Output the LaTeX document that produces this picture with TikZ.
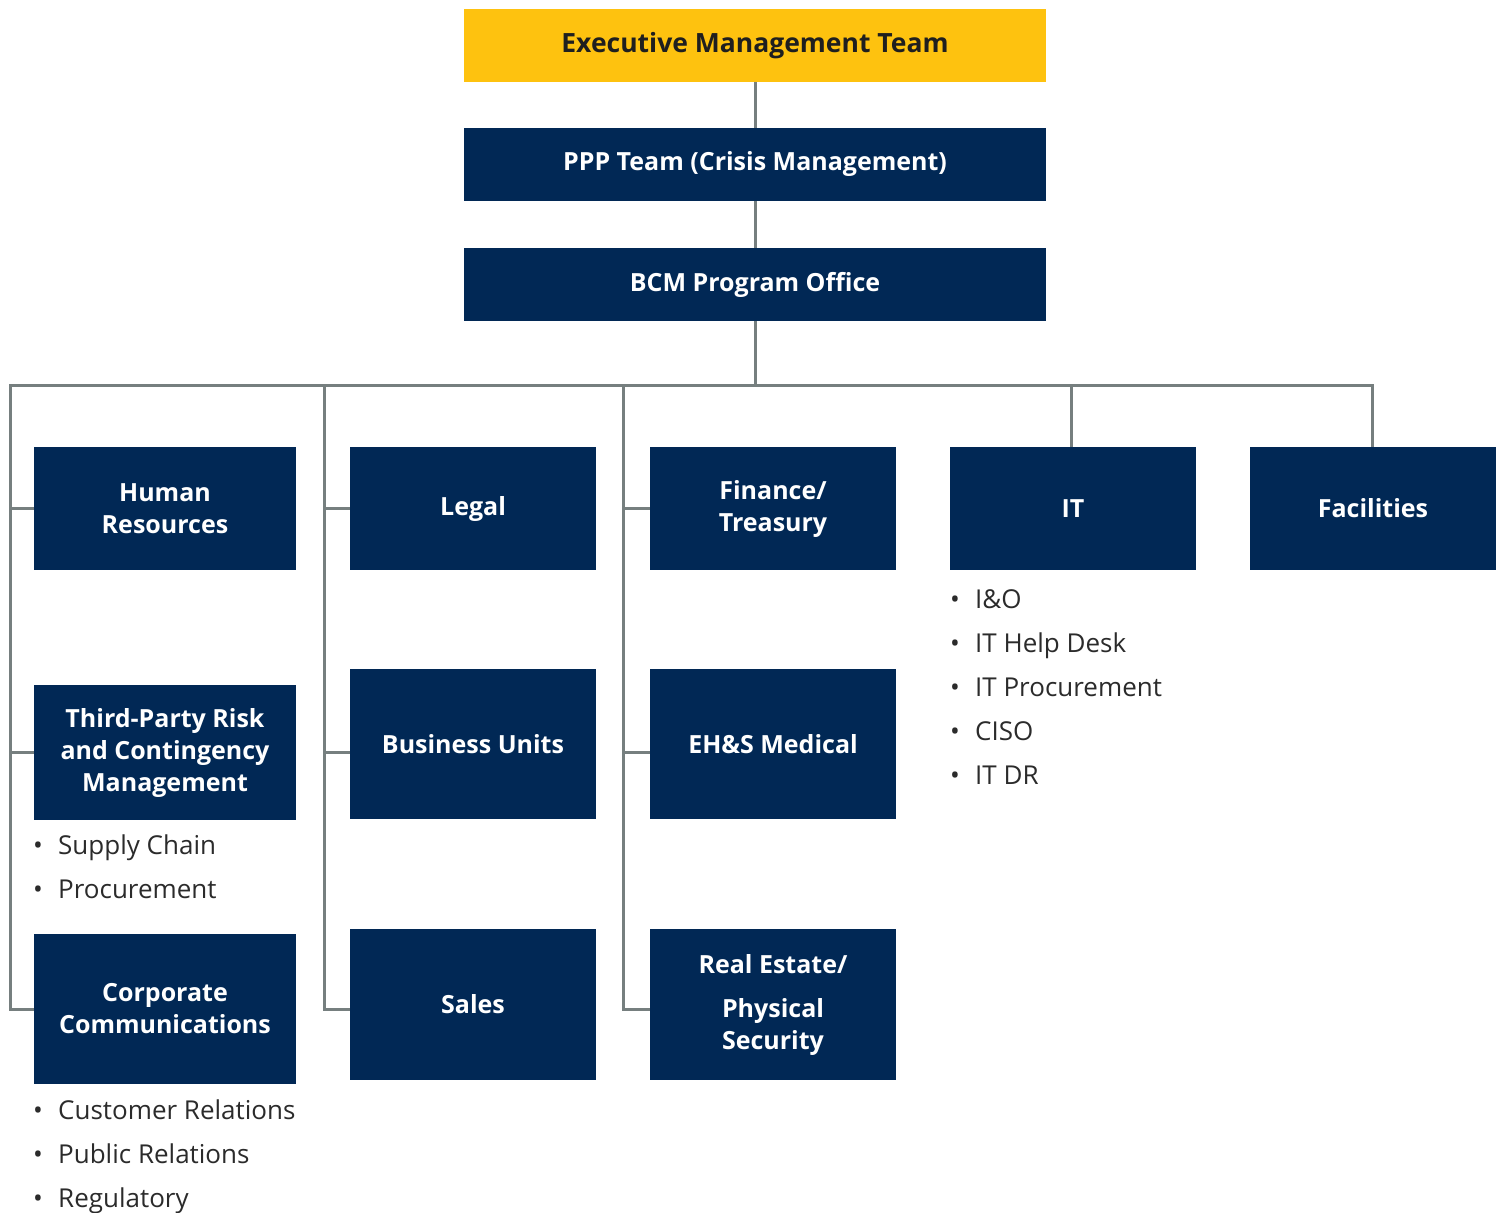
\documentclass[tikz,border=0pt]{standalone}
\usepackage{fontspec}
\setmainfont{Open Sans}
\definecolor{navy}{HTML}{012855}
\definecolor{gold}{HTML}{FEC20F}
\definecolor{wire}{HTML}{767F7F}
\definecolor{ink}{HTML}{2B2B2B}
\definecolor{headink}{HTML}{1F1F1F}
\begin{document}
\begin{tikzpicture}[x=1pt,y=-1pt,
  unitbox/.style={fill=navy, text=white, inner sep=0pt, align=center,
    font=\fontsize{25}{32}\selectfont\bfseries},
  wide/.style={minimum width=582pt, minimum height=73pt},
  link/.style={draw=wire, line width=3pt},
  item/.style={anchor=base west, inner sep=0pt, text=ink,
    font=\fontsize{26}{28}\selectfont}]
\useasboundingbox (0,0) rectangle (1503,1212);

% top chain
\node[unitbox, wide, fill=gold, text=headink, font=\fontsize{26.5}{32}\selectfont\bfseries] (exec) at (755,45.5) {Executive Management Team};
\node[unitbox, wide] (ppp) at (755,164.5) {PPP Team (Crisis Management)};
\node[unitbox, wide] (bcm) at (755,284.5) {BCM Program Office};

% first row of units
\node[unitbox, minimum width=262pt, minimum height=123pt] (hr) at (165,508.5) {Human\\Resources};
\node[unitbox, minimum width=246pt, minimum height=123pt] (legal) at (473,508.5) {Legal};
\node[unitbox, minimum width=246pt, minimum height=123pt] (fin) at (773,508.5) {Finance/\\Treasury};
\node[unitbox, minimum width=246pt, minimum height=123pt] (it) at (1073,508.5) {IT};
\node[unitbox, minimum width=246pt, minimum height=123pt] (fac) at (1373,508.5) {Facilities};

% second row
\node[unitbox, minimum width=262pt, minimum height=135pt] (tp) at (165,752.5) {Third-Party Risk\\and Contingency\\Management};
\node[unitbox, minimum width=246pt, minimum height=150pt] (bu) at (473,744) {Business Units};
\node[unitbox, minimum width=246pt, minimum height=150pt] (ehs) at (773,744) {EH\&S Medical};

% third row
\node[unitbox, minimum width=262pt, minimum height=150pt] (cc) at (165,1009) {Corporate\\Communications};
\node[unitbox, minimum width=246pt, minimum height=151pt] (sales) at (473,1004.5) {Sales};
\node[unitbox, minimum width=246pt, minimum height=151pt] (re) at (773,1004.5) {Real Estate/\\[12pt]Physical\\Security};

% bus and trunk positions
\coordinate (t1) at (10.5,385);
\coordinate (t2) at (324,385);
\coordinate (t3) at (623,385);
\coordinate (t4) at (1071,385);
\coordinate (t5) at (1372,385);
\coordinate (r2) at (0,752);
\coordinate (r3) at (0,1009);

% connectors
\draw[link] (exec) -- (ppp);
\draw[link] (ppp) -- (bcm);
\draw[link] (bcm.south) -- (bcm.south |- t1);
\draw[link] (cc.west) -- (t1 |- cc.west) -- (t1) -- (t5) -- (t5 |- fac.north);
\draw[link] (t4) -- (t4 |- it.north);
\draw[link] (t1 |- hr.west) -- (hr.west);
\draw[link] (t1 |- r2) -- (tp.west |- r2);
\draw[link] (t2) -- (t2 |- r3) -- (sales.west |- r3);
\draw[link] (t2 |- legal.west) -- (legal.west);
\draw[link] (t2 |- r2) -- (bu.west |- r2);
\draw[link] (t3) -- (t3 |- r3) -- (re.west |- r3);
\draw[link] (t3 |- fin.west) -- (fin.west);
\draw[link] (t3 |- r2) -- (ehs.west |- r2);

% sub-function lists
\node[item] (tp1) at (33,854) {\makebox[25pt][l]{\textbullet}Supply Chain};
\node[item] (tp2) at (33,898) {\makebox[25pt][l]{\textbullet}Procurement};
\node[item] (cc1) at (33,1119) {\makebox[25pt][l]{\textbullet}Customer Relations};
\node[item] (cc2) at (33,1163) {\makebox[25pt][l]{\textbullet}Public Relations};
\node[item] (cc3) at (33,1207) {\makebox[25pt][l]{\textbullet}Regulatory};
\node[item] (it1) at (950,608) {\makebox[25pt][l]{\textbullet}I\&O};
\node[item] (it2) at (950,652) {\makebox[25pt][l]{\textbullet}IT Help Desk};
\node[item] (it3) at (950,696) {\makebox[25pt][l]{\textbullet}IT Procurement};
\node[item] (it4) at (950,740) {\makebox[25pt][l]{\textbullet}CISO};
\node[item] (it5) at (950,784) {\makebox[25pt][l]{\textbullet}IT DR};
\end{tikzpicture}
\end{document}
